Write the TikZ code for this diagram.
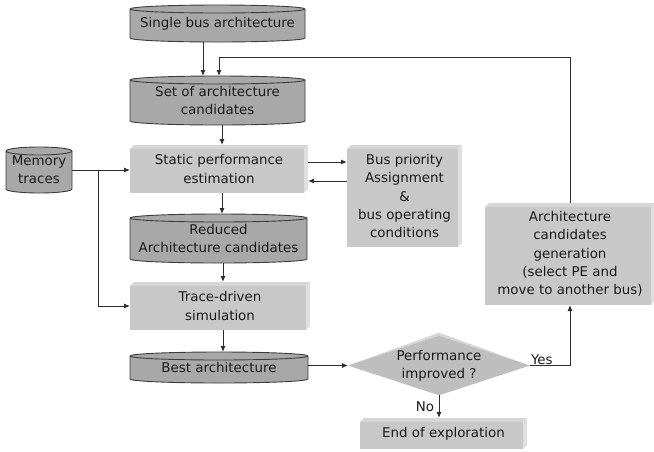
\documentclass[tikz,border=0pt]{standalone}
\usepackage{fontspec}
\setmainfont{DejaVu Sans}
\usetikzlibrary{arrows.meta,backgrounds,shapes.geometric,calc}
\definecolor{cylfill}{HTML}{A8A8A8}
\definecolor{cylline}{HTML}{3C3C3C}
\definecolor{boxface}{HTML}{C8C8C8}
\definecolor{boxtop}{HTML}{D6D6D6}
\definecolor{boxside}{HTML}{DFDFDF}
\definecolor{decfill}{HTML}{BEBEBE}
\definecolor{linec}{HTML}{2E2E2E}
\definecolor{txtc}{HTML}{1A1A1A}
\tikzset{
  lbl/.style={font=\fontsize{13.4}{18.3}\selectfont, text=txtc, align=center, inner sep=0pt, outer sep=0pt},
  cylshape/.style={draw=cylline, fill=cylfill, line width=0.9pt},
  arr/.style={draw=linec, line width=1pt, -{Latex[length=6pt,width=5pt]}},
}
\newcommand\mycyl[6]{%
  \node[lbl, minimum width=#4pt, minimum height=#5pt] (#1) at (#2,-#3) {#6};
  \begin{scope}[on background layer]
    \path[cylshape] ([yshift=-4pt]#1.north west) -- ([yshift=4pt]#1.south west)
      arc[start angle=180,end angle=360,x radius=#4pt/2,y radius=4pt]
      -- ([yshift=-4pt]#1.north east)
      arc[start angle=0,end angle=180,x radius=#4pt/2,y radius=4pt] -- cycle;
    \draw[cylshape, fill=none] ([yshift=-4pt]#1.north west)
      arc[start angle=180,end angle=360,x radius=#4pt/2,y radius=4pt];
  \end{scope}}
\newcommand\mybox[6]{%
  \node[lbl, minimum width=#4pt, minimum height=#5pt] (#1) at (#2,-#3) {#6};
  \begin{scope}[on background layer]
    \fill[boxface] ([yshift=-4pt]#1.north west) rectangle ([xshift=-4pt]#1.south east);
    \fill[boxtop] ([yshift=-4pt]#1.north west) -- ([xshift=4pt]#1.north west) -- (#1.north east)
      -- ([xshift=-4pt,yshift=-4pt]#1.north east) -- cycle;
    \fill[boxside] ([xshift=-4pt,yshift=-4pt]#1.north east) -- (#1.north east)
      -- ([yshift=4pt]#1.south east) -- ([xshift=-4pt]#1.south east) -- cycle;
  \end{scope}}
\begin{document}
\begin{tikzpicture}[x=1pt,y=1pt]
\useasboundingbox (0,0) rectangle (654,-451);
% cylinders
\mycyl{single}{217.5}{23.5}{175}{37}{Single bus architecture}
\mycyl{setc}{217.5}{100.5}{175}{49}{Set of architecture\\candidates}
\mycyl{mem}{39}{170}{66}{46}{Memory\\traces}
\mycyl{reduced}{218.5}{238.5}{177}{49}{Reduced\\Architecture candidates}
\mycyl{best}{219}{367.5}{178}{31}{Best architecture}
% boxes
\mybox{static}{219}{169}{178}{48}{Static performance\\estimation}
\mybox{trace}{220}{306}{180}{48}{Trace-driven\\simulation}
\mybox{bus}{404.5}{196}{115}{102}{Bus priority\\Assignment\\\&\\bus operating\\conditions}
\mybox{gen}{570}{254}{170}{102}{Architecture\\candidates\\generation\\(select PE and\\move to another bus)}
\mybox{endb}{443.5}{433.5}{167}{31}{End of exploration}
% decision
\node[lbl, diamond, fill=decfill, aspect=3, minimum width=182pt, minimum height=59pt] (dec) at (439,-365.5) {Performance\\improved ?};
\begin{scope}[on background layer]
  \fill[boxtop] (dec.west) -- ([yshift=3pt]dec.north) -- (dec.east) -- (dec.north) -- cycle;
\end{scope}
\node[lbl, anchor=south west] (yes) at ([xshift=1pt,yshift=1pt]dec.east) {Yes};
\node[lbl, anchor=east] (no) at ([xshift=-5pt,yshift=-11pt]dec.south) {No};
% connectors
\draw[arr] ([xshift=-14.5pt]single.south) -- ([xshift=-14.5pt]single.south |- setc.north);
\coordinate (fb) at (219,-57);
\draw[arr] (gen.north) |- (fb) -- (fb |- setc.north);
\draw[arr] ([xshift=4.5pt]setc.south) -- ([xshift=4.5pt]setc.south |- static.north);
\draw[arr] ([xshift=3pt]static.south) -- ([xshift=3pt]static.south |- reduced.north);
\draw[arr] ([xshift=4.5pt]reduced.south) -- ([xshift=4.5pt]reduced.south |- trace.north);
\draw[arr] ([xshift=3pt]trace.south) -- ([xshift=3pt]trace.south |- best.north);
\draw[arr] (mem.east) -- (mem.east -| static.west);
\coordinate (br) at (98,-170);
\draw[arr] (br) |- (trace.west);
\draw[arr] ([yshift=7pt]static.east) -- ([yshift=7pt]static.east -| bus.west);
\draw[arr] ([yshift=-12pt]static.east -| bus.west) -- ([yshift=-12pt]static.east);
\draw[arr] (best.east |- dec.west) -- (dec.west);
\draw[arr] (dec.east) -| (gen.south);
\draw[arr] (dec.south) -- (dec.south |- endb.north);
\end{tikzpicture}
\end{document}
